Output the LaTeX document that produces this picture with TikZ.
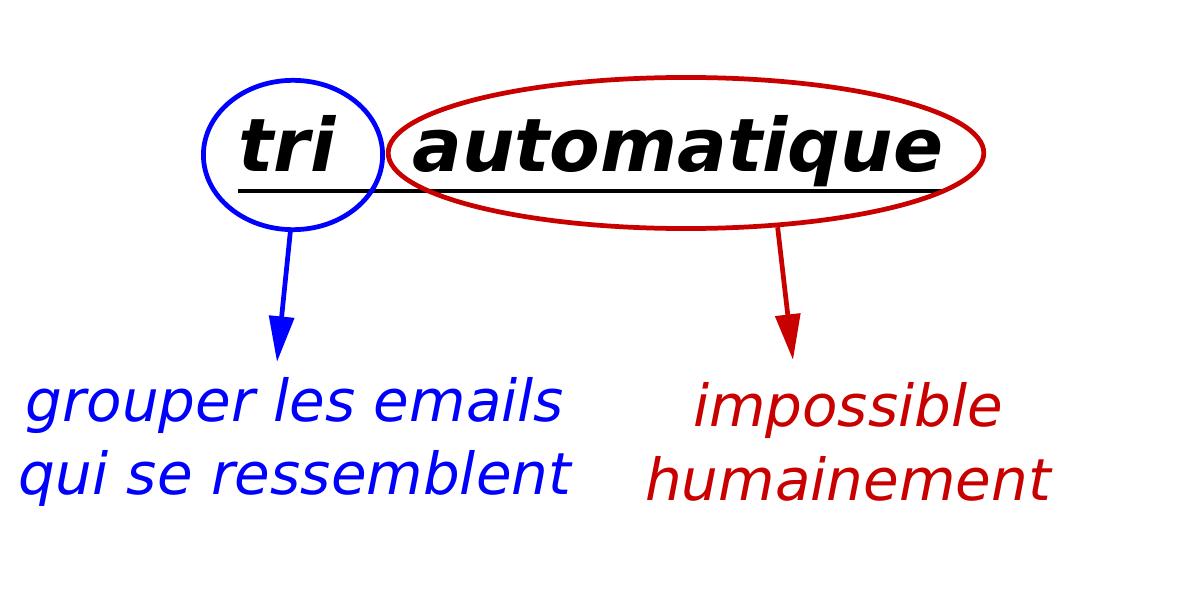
\documentclass[tikz,border=0pt]{standalone}
\usepackage{fontspec}
\setmainfont{DejaVu Sans}
\usetikzlibrary{shapes.geometric,arrows.meta}
\definecolor{tblue}{RGB}{0,0,255}
\definecolor{tred}{RGB}{200,0,0}

\begin{document}
\begin{tikzpicture}[x=0.02cm,y=-0.02cm,
  ring/.style={draw,ellipse,line width=2.7pt,inner sep=0pt},
  pointer/.style={line width=2.7pt,-{Triangle[length=26pt,width=14pt]}},
  headword/.style={anchor=base west,inner sep=0pt,font=\bfseries\itshape\fontsize{42}{50}\selectfont},
  gloss/.style={align=center,font=\itshape\fontsize{33}{42}\selectfont}]
  \useasboundingbox (0,0) rectangle (1201,608);
  % title and underline
  \node[headword] (triword) at (238,172) {tri};
  \node[headword] (autoword) at (412,172) {automatique};
  \draw[line width=2.7pt] (238,191) -- (945,191);
  % highlights
  \node[ring,tblue,minimum width=102pt,minimum height=85pt] (tri) at (293,155) {};
  \node[ring,tred,minimum width=339pt,minimum height=86pt] (auto) at (686,153) {};
  % explanations
  \node[gloss,tblue] (group) at (295,442) {grouper les emails\\qui se ressemblent};
  \node[gloss,tred] (human) at (848,442) {impossible\\humainement};
  \coordinate (triEnd) at (277,362);
  \coordinate (autoEnd) at (793,360);
  \draw[pointer,tblue] (tri.-92) -- (triEnd);
  \draw[pointer,tred] (auto.-39) -- (autoEnd);
\end{tikzpicture}
\end{document}
